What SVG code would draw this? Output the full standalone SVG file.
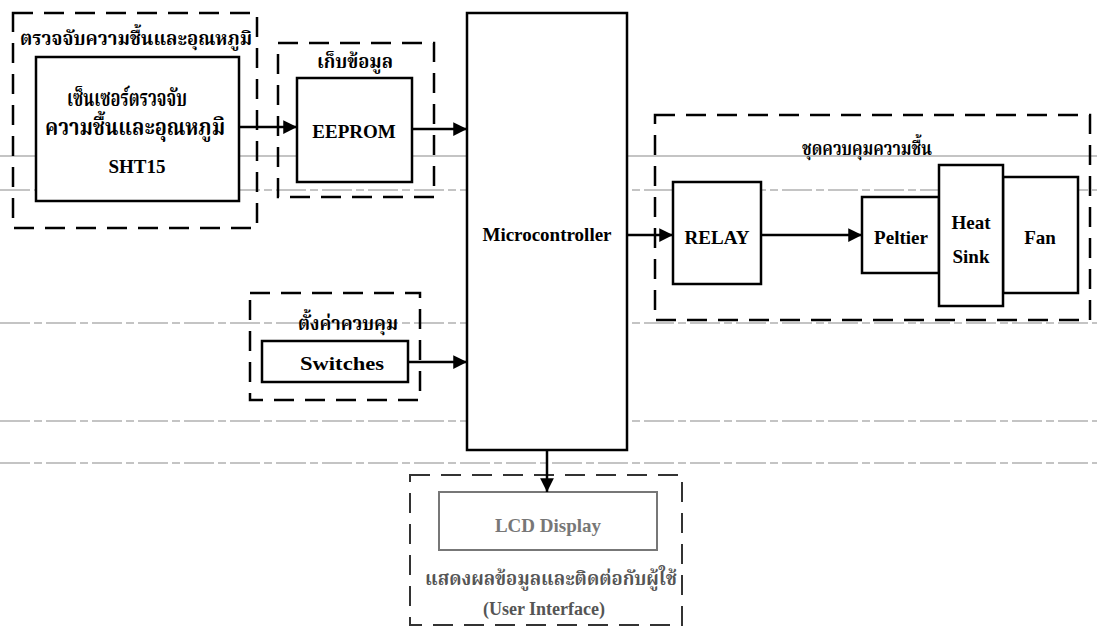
<svg xmlns="http://www.w3.org/2000/svg" width="1097" height="632" viewBox="0 0 1097 632">
<style>
.bg{fill:#fff}
.scan{stroke:#8a8a8a;stroke-width:1.2;fill:none}
.scand{stroke:#8a8a8a;stroke-width:1.2;fill:none;stroke-dasharray:30 4 8 4}
.grp{fill:none;stroke:#000;stroke-width:2.5;stroke-dasharray:20 11}
.box{fill:#fff;stroke:#000;stroke-width:2.5}
.gbox{fill:#fff;stroke:#777;stroke-width:2}
.ggrp{fill:none;stroke:#333;stroke-width:2;stroke-dasharray:20 11}
.en{font-family:"Liberation Serif",serif;font-weight:bold;font-size:19px;fill:#000;text-anchor:middle}
.th{font-family:"Liberation Serif","Noto Serif Thai","Noto Sans Thai Looped","Noto Sans Thai","Noto Sans",serif;font-weight:bold;font-size:20px;fill:#000;text-anchor:middle}
.big{font-size:23px}
.gray{fill:#777}
.dk{fill:#555}
.con{stroke:#000;stroke-width:2.5;fill:none}
</style>
<defs>
<marker id="ah" viewBox="0 0 10 10" refX="10" refY="5" markerWidth="7" markerHeight="5.5" markerUnits="strokeWidth" orient="auto">
<path d="M0,0 L10,5 L0,10 z" fill="#000"/>
</marker>
</defs>
<rect class="bg" x="0" y="0" width="1097" height="632"/>
<g id="scanlines">
<line class="scan" x1="0" y1="156" x2="1097" y2="156"/>
<line class="scand" x1="0" y1="190" x2="1097" y2="190"/>
<line class="scand" x1="0" y1="323" x2="1097" y2="323"/>
<line class="scand" x1="0" y1="421" x2="1097" y2="421"/>
<line class="scand" x1="0" y1="463" x2="1097" y2="463"/>
</g>
<g id="sensor-group">
<rect class="grp" x="13" y="13" width="244" height="215"/>
<text class="th" x="136" y="45" textLength="232" lengthAdjust="spacingAndGlyphs">ตรวจจับความชื้นและอุณหภูมิ</text>
</g>
<g id="sensor">
<rect class="box" x="36" y="57" width="203" height="144"/>
<text class="th big" x="127" y="106" textLength="120" lengthAdjust="spacingAndGlyphs">เซ็นเซอร์ตรวจจับ</text>
<text class="th big" x="135" y="135" textLength="180" lengthAdjust="spacingAndGlyphs">ความชื้นและอุณหภูมิ</text>
<text class="en" x="137" y="173">SHT15</text>
</g>
<g id="storage-group">
<rect class="grp" x="278" y="43" width="156" height="154"/>
<text class="th" x="355" y="68" textLength="76" lengthAdjust="spacingAndGlyphs">เก็บข้อมูล</text>
</g>
<g id="eeprom">
<rect class="box" x="297" y="78" width="115" height="104"/>
<text class="en" x="354" y="138">EEPROM</text>
</g>
<g id="microcontroller">
<rect class="box" x="467" y="13" width="160" height="437"/>
<text class="en" x="547" y="241">Microcontroller</text>
</g>
<g id="control-group">
<rect class="grp" x="655" y="115" width="435" height="205"/>
<text class="th" x="867" y="155" textLength="130" lengthAdjust="spacingAndGlyphs">ชุดควบคุมความชื้น</text>
</g>
<g id="relay">
<rect class="box" x="673" y="182" width="88" height="102"/>
<text class="en" x="717" y="244">RELAY</text>
</g>
<g id="peltier">
<rect class="box" x="862" y="197" width="77" height="76"/>
<text class="en" x="901" y="244">Peltier</text>
</g>
<g id="fan">
<rect class="box" x="1003" y="177" width="75" height="116"/>
<text class="en" x="1040" y="244">Fan</text>
</g>
<g id="heatsink">
<rect class="box" x="939" y="165" width="64" height="141"/>
<text class="en" x="971" y="229">Heat</text>
<text class="en" x="971" y="263">Sink</text>
</g>
<g id="settings-group">
<rect class="grp" x="250" y="293" width="170" height="107"/>
<text class="th" x="348" y="330" textLength="100" lengthAdjust="spacingAndGlyphs">ตั้งค่าควบคุม</text>
</g>
<g id="switches">
<rect class="box" x="262" y="341" width="146" height="41"/>
<text class="en" x="342" y="370" textLength="84" lengthAdjust="spacingAndGlyphs">Switches</text>
</g>
<g id="ui-group">
<rect class="ggrp" x="410" y="475" width="272" height="150"/>
<text class="th dk" x="551" y="585" textLength="252" lengthAdjust="spacingAndGlyphs">แสดงผลข้อมูลและติดต่อกับผู้ใช้</text>
<text class="en dk" x="544" y="615" style="font-size:18px">(User Interface)</text>
</g>
<g id="lcd">
<rect class="gbox" x="439" y="492" width="218" height="58"/>
<text class="en gray" x="548" y="532">LCD Display</text>
</g>
<g id="connectors">
<line class="con" x1="239" y1="127" x2="297" y2="127" marker-end="url(#ah)"/>
<line class="con" x1="412" y1="129" x2="467" y2="129" marker-end="url(#ah)"/>
<line class="con" x1="627" y1="235" x2="673" y2="235" marker-end="url(#ah)"/>
<line class="con" x1="761" y1="235" x2="862" y2="235" marker-end="url(#ah)"/>
<line class="con" x1="408" y1="362" x2="467" y2="362" marker-end="url(#ah)"/>
<line class="con" x1="547" y1="450" x2="547" y2="492" marker-end="url(#ah)"/>
</g>
</svg>
